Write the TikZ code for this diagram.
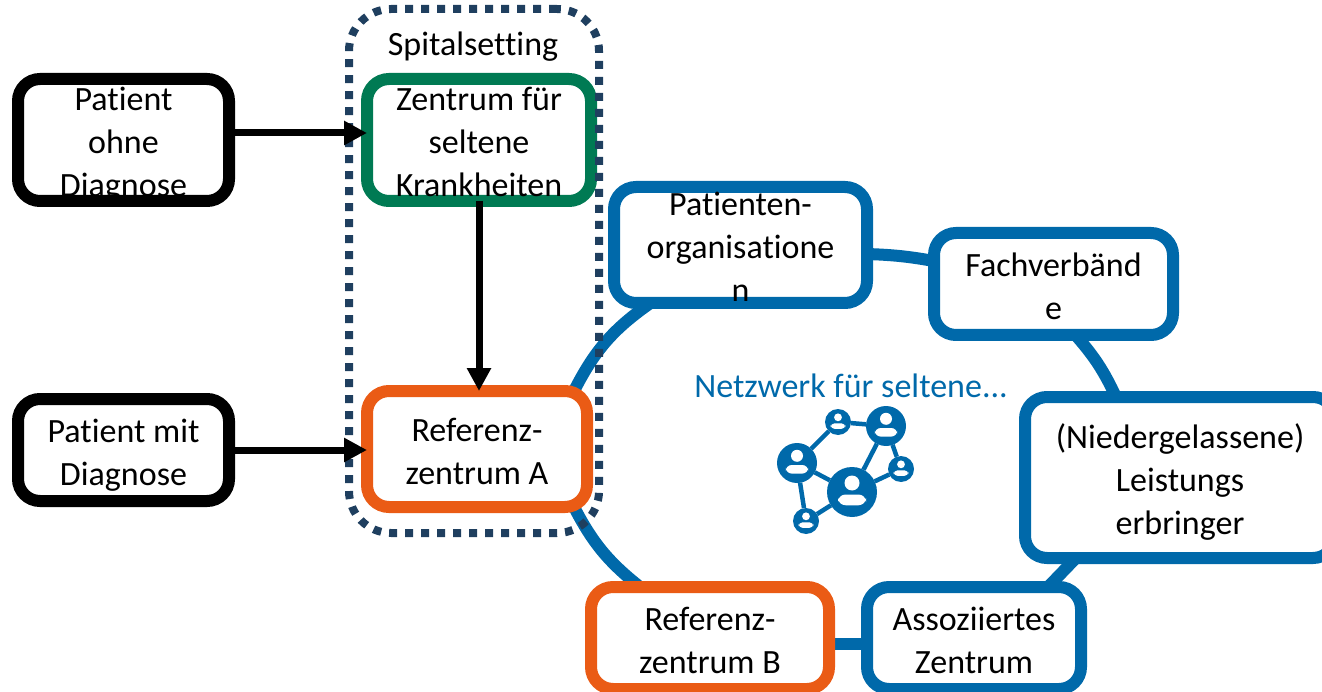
\documentclass[tikz,border=0pt]{standalone}
\usepackage{fontspec}
\setmainfont{Carlito}[Ligatures=NoCommon]
\usetikzlibrary{arrows.meta,backgrounds}
\definecolor{netblue}{RGB}{0,105,170}
\definecolor{centergreen}{RGB}{0,122,83}
\definecolor{refred}{RGB}{234,91,21}
\definecolor{framenavy}{RGB}{31,63,95}
\tikzset{
  box/.style={draw,fill=white,rounded corners=22pt,line width=12pt,outer sep=0pt,inner sep=0pt,
    align=center,font=\fontsize{34}{43}\selectfont},
  twolines/.style={text height=71pt,text depth=0pt},
  threelines/.style={text height=113pt,text depth=0pt},
  patientbox/.style={box,draw=black},
  netbox/.style={box,draw=netblue},
  refbox/.style={box,draw=refred},
  centerbox/.style={box,draw=centergreen},
  flow/.style={line width=7pt,-{Triangle[length=23pt,width=23pt]}},
  netlink/.style={draw=netblue,line width=12pt},
  iconlink/.style={draw=netblue,line width=4.5pt},
  iconhub/.style={circle,fill=netblue,inner sep=0pt,outer sep=0pt},
}
\begin{document}
\begin{tikzpicture}[x=1pt,y=-1pt]
  \useasboundingbox (0,0) rectangle (1322,692);
  % patients and hospital centres
  \node[patientbox,threelines,minimum width=211pt,minimum height=122pt] (ohne) at (123.5,140) {Patient\\ohne\\Diagnose};
  \node[patientbox,twolines,minimum width=211pt,minimum height=102pt] (mit) at (123.5,450) {Patient mit\\Diagnose};
  \node[centerbox,threelines,minimum width=224pt,minimum height=122pt] (zentrum) at (479,140) {Zentrum für\\seltene\\Krankheiten};
  \node[refbox,twolines,minimum width=220pt,minimum height=116pt] (refa) at (477,449) {Referenz-\\zentrum A};
  % network
  \node[netbox,threelines,minimum width=253pt,minimum height=116pt] (orga) at (740.5,245) {Patienten-\\organisatione\\n};
  \node[netbox,twolines,minimum width=239pt,minimum height=102pt] (fach) at (1053.5,284) {Fachverbänd\\e};
  \node[netbox,threelines,minimum width=310pt,minimum height=161pt] (praxis) at (1180,477.5) {(Niedergelassene)\\Leistungs\\erbringer};
  \node[refbox,twolines,minimum width=238pt,minimum height=102pt] (refb) at (710,638) {Referenz-\\zentrum B};
  \node[netbox,twolines,minimum width=214pt,minimum height=102pt] (assoz) at (974,638) {Assoziiertes\\Zentrum};
  \begin{scope}[on background layer]
    \draw[netlink] ([yshift=-9pt]orga.east) to[bend left=4] ([yshift=23pt]fach.west);
    \draw[netlink] ([xshift=22pt]fach.south) to[bend left=8] ([xshift=-64pt]praxis.north);
    \draw[netlink] ([xshift=-104pt]praxis.south) -- ([xshift=74pt]assoz.north);
    \draw[netlink] ([yshift=-6pt]assoz.west) -- ([yshift=-6pt]refb.east);
    \draw[netlink] ([xshift=-90pt]orga.south) to[bend right=14] ([xshift=97pt]refa.north);
    \draw[netlink] ([xshift=97pt]refa.south) to[bend right=12] ([xshift=-70pt]refb.north);
  \end{scope}
  \node[font=\fontsize{34}{43}\selectfont] (spital) at (473,47) {Spitalsetting};
  \node[draw=framenavy,line width=8pt,dash pattern=on 8pt off 8pt,rounded corners=42pt,
    minimum width=250pt,minimum height=524pt,inner sep=0pt,outer sep=0pt] (frame) at (474,271) {};
  \draw[flow] ([yshift=7pt]ohne.east) -- ([yshift=7pt]zentrum.west);
  \draw[flow] (mit.east) -- (mit.east -| refa.west);
  \draw[flow] (zentrum.south) -- (zentrum.south |- refa.north);
  \node[font=\fontsize{34}{43}\selectfont,text=netblue] (netz) at (851,386) {Netzwerk für seltene...};
  % little network icon
  \foreach \name/\px/\py/\pr in {big/852/492/25,upper/886/426/20,left/797/463/20,top/838/422/13,right/901/469/13,bottom/806/521/13} {
    \node[iconhub,minimum size=2*\pr*1pt] (\name) at (\px,\py) {};
    \fill[white] (\px,\py-.36*\pr) circle (.3*\pr);
    \fill[white,rounded corners=.3*\pr*1pt] (\px-.56*\pr,\py+.53*\pr) -- (\px-.56*\pr,\py+.1*\pr) -- (\px+.56*\pr,\py+.1*\pr) -- (\px+.56*\pr,\py+.53*\pr) -- cycle;
  }
  \begin{scope}[on background layer]
    \foreach \from/\to in {left/top,top/upper,upper/big,upper/right,right/big,left/big,left/bottom,bottom/big}
      \draw[iconlink] (\from) -- (\to);
  \end{scope}
\end{tikzpicture}
\end{document}
